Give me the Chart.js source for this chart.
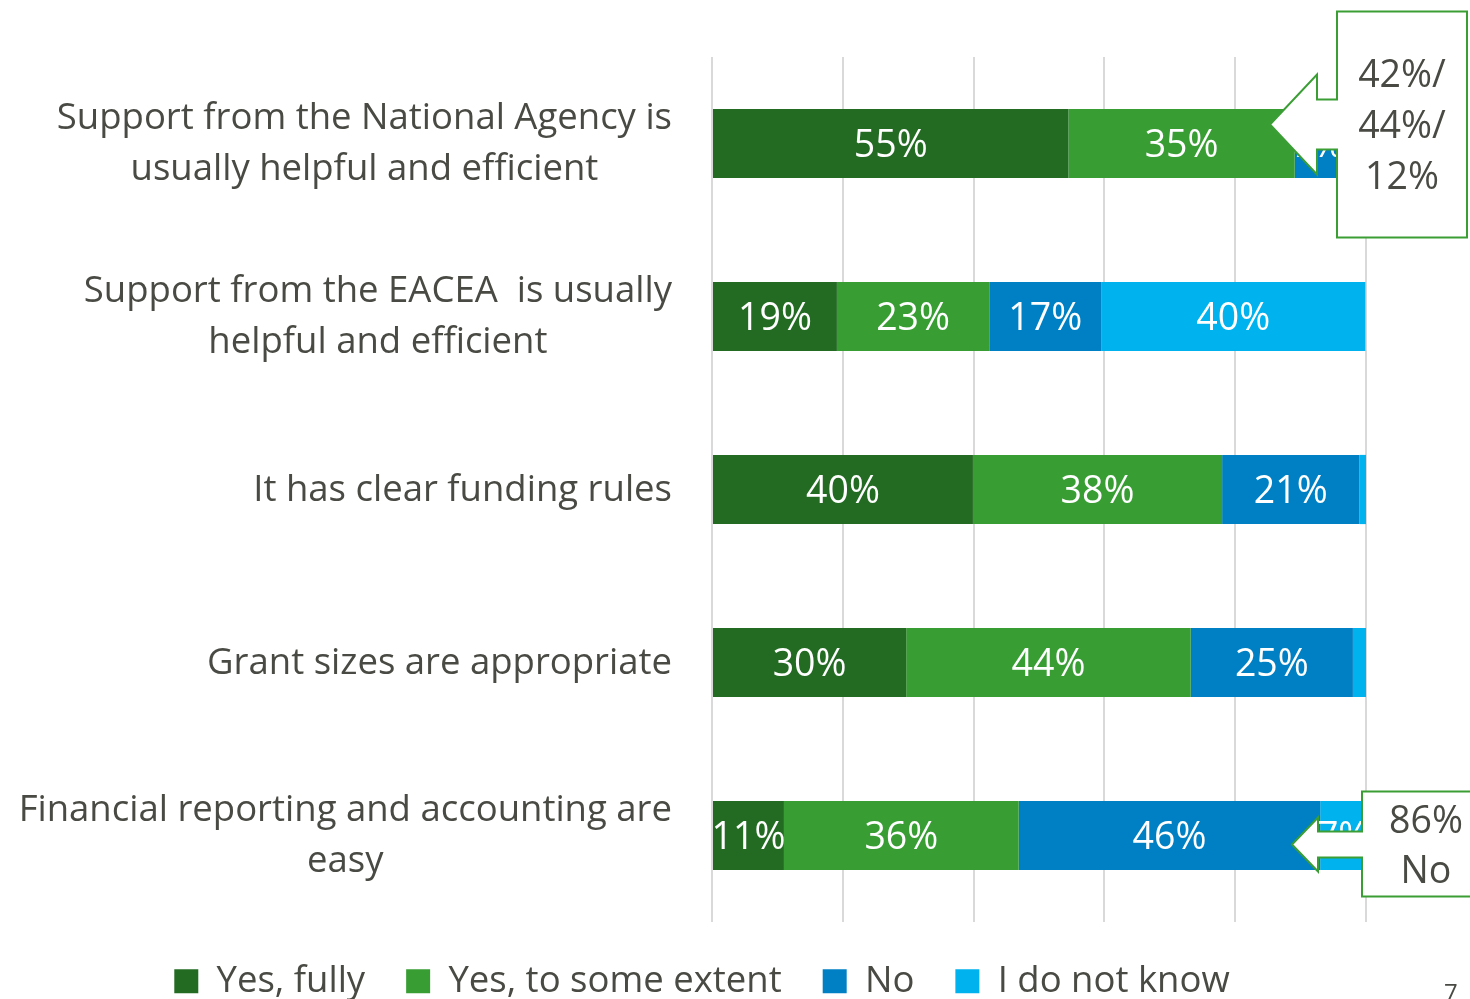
<!DOCTYPE html>
<html><head><meta charset="utf-8">
<script src="https://cdn.jsdelivr.net/npm/chart.js@4.4.1/dist/chart.umd.min.js"></script>
<style>
html,body{margin:0;padding:0;background:#fff;}
#wrap{position:relative;width:1470px;height:999px;overflow:hidden;}
#pn{position:absolute;left:1444px;top:980px;font:24px "Open Sans";line-height:1;color:#4a4a44;}
</style>
</head><body>
<div id="wrap"><canvas id="c" width="1470" height="999"></canvas><div id="pn">7</div></div>
<script>
const categories = [
  ["Support from the National Agency is", "usually helpful and efficient"],
  ["Support from the EACEA  is usually", "helpful and efficient"],
  ["It has clear funding rules"],
  ["Grant sizes are appropriate"],
  ["Financial reporting and accounting are", "easy"]
];
const seriesNames = ["Yes, fully", "Yes, to some extent", "No", "I do not know"];
const yesFully   = [54.5, 19.1, 39.9, 29.7, 11.0];
const yesSome    = [34.6, 23.3, 38.1, 43.5, 35.9];
const no         = [7.0, 17.1, 21.0, 24.8, 46.1];
const dontKnow   = [3.9, 40.4, 1.0, 2.0, 7.0];
const seriesColors = ["#236B23", "#389E34", "#0080C4", "#00B2EE"];
const calloutTexts = [["42%/", "44%/", "12%"], ["86%", "No"]];
const calloutBars = [0, 4];

const FONT = "'Open Sans'";
const TEXT = "#4a4a44";

const labelPlugin = {
  id: "segLabels",
  afterDatasetsDraw(chart) {
    const ctx = chart.ctx;
    ctx.save();
    ctx.font = "37.5px " + FONT;
    ctx.fillStyle = "#fff";
    ctx.textAlign = "center";
    ctx.textBaseline = "middle";
    chart.data.datasets.forEach((ds, di) => {
      const meta = chart.getDatasetMeta(di);
      meta.data.forEach((bar, i) => {
        const v = ds.data[i];
        if (v < 5) return;
        ctx.fillText(Math.round(v) + "%", (bar.x + bar.base) / 2, bar.y + 3);
      });
    });
    ctx.restore();
  }
};

const yLabelPlugin = {
  id: "yLabels",
  afterDraw(chart) {
    const ctx = chart.ctx, ys = chart.scales.y;
    const right = chart.chartArea.left - 40;
    const lh = 51;
    ctx.save();
    ctx.font = "36.5px " + FONT;
    ctx.fillStyle = TEXT;
    ctx.textAlign = "center";
    ctx.textBaseline = "middle";
    categories.forEach((lines, i) => {
      const w = Math.max(...lines.map(l => ctx.measureText(l).width));
      const cx = right - w / 2;
      const yc = ys.getPixelForValue(i);
      lines.forEach((l, k) => {
        ctx.fillText(l, cx, yc + 1 + (k - (lines.length - 1) / 2) * lh);
      });
    });
    ctx.restore();
  }
};

const calloutPlugin = {
  id: "callouts",
  afterDraw(chart) {
    const ctx = chart.ctx, ys = chart.scales.y, R = chart.chartArea.right;
    const geo = [
      {x1: -29, x2: 101, y1: -132, y2: 94, ay: -19, tip: -96, neck: -49, head: 50, shaft: 25, lh: 51},
      {x1: -4, x2: 124, y1: -44, y2: 61, ay: 9, tip: -74, neck: -48, head: 27, shaft: 13, lh: 50}
    ];
    calloutBars.forEach((bi, n) => {
      const g = geo[n];
      const yc = ys.getPixelForValue(bi);
      const x1 = R + g.x1, x2 = R + g.x2, y1 = yc + g.y1, y2 = yc + g.y2;
      const ay = yc + g.ay, tx = R + g.tip, nx = R + g.neck;
      ctx.save();
      ctx.beginPath();
      ctx.moveTo(x1, y1);
      ctx.lineTo(x2, y1);
      ctx.lineTo(x2, y2);
      ctx.lineTo(x1, y2);
      ctx.lineTo(x1, ay + g.shaft);
      ctx.lineTo(nx, ay + g.shaft);
      ctx.lineTo(nx, ay + g.head);
      ctx.lineTo(tx, ay);
      ctx.lineTo(nx, ay - g.head);
      ctx.lineTo(nx, ay - g.shaft);
      ctx.lineTo(x1, ay - g.shaft);
      ctx.closePath();
      ctx.fillStyle = "#fff";
      ctx.fill();
      ctx.lineWidth = 2;
      ctx.strokeStyle = "#3A9E35";
      ctx.lineJoin = "miter";
      ctx.stroke();
      ctx.font = "37.5px " + FONT;
      ctx.fillStyle = TEXT;
      ctx.textAlign = "center";
      ctx.textBaseline = "middle";
      const lines = calloutTexts[n];
      const cy = (y1 + y2) / 2;
      lines.forEach((l, k) => {
        ctx.fillText(l, (x1 + x2) / 2, cy + 3 + (k - (lines.length - 1) / 2) * g.lh);
      });
      ctx.restore();
    });
  }
};

const seriesData = [yesFully, yesSome, no, dontKnow];
new Chart(document.getElementById("c"), {
  type: "bar",
  data: {
    labels: categories,
    datasets: seriesNames.map((name, i) => ({
      label: name,
      data: seriesData[i],
      backgroundColor: seriesColors[i],
      borderWidth: 0,
      barPercentage: 0.4,
      categoryPercentage: 1
    }))
  },
  options: {
    indexAxis: "y",
    responsive: false,
    animation: false,
    devicePixelRatio: 1,
    layout: {padding: {left: 38, right: 104, top: 57, bottom: 0}},
    scales: {
      x: {
        stacked: true, min: 0, max: 100,
        ticks: {display: false, stepSize: 20},
        grid: {color: "#d9d9d9", lineWidth: 2, drawTicks: false},
        border: {display: false}
      },
      y: {
        stacked: true,
        ticks: {display: false},
        grid: {display: false, drawTicks: false},
        border: {display: false},
        afterFit(s) { s.width = 674; }
      }
    },
    plugins: {
      tooltip: {enabled: false},
      legend: {
        position: "bottom",
        maxHeight: 77,
        labels: {
          font: {family: "Open Sans", size: 36.5},
          color: TEXT,
          boxWidth: 24,
          boxHeight: 24,
          padding: 41
        }
      }
    }
  },
  plugins: [labelPlugin, yLabelPlugin, calloutPlugin]
});
</script>
</body></html>
